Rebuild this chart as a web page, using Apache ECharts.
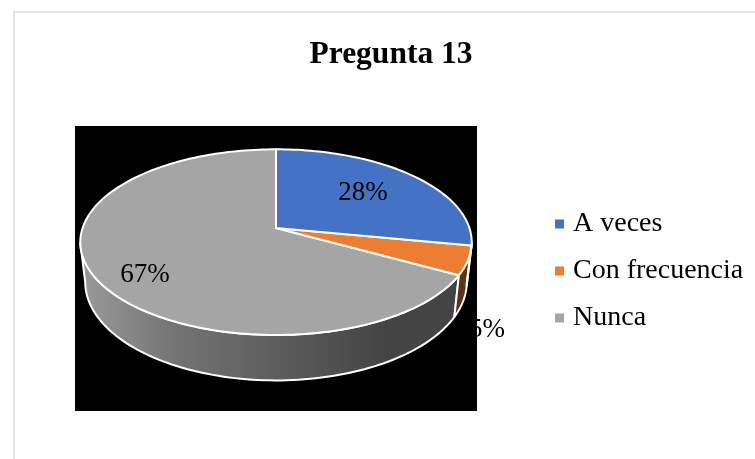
<!DOCTYPE html>
<html>
<head>
<meta charset="utf-8">
<style>
  html, body { margin: 0; padding: 0; background: #fff; }
  #chart { width: 755px; height: 459px; }
</style>
<script src="https://cdn.jsdelivr.net/npm/echarts@6/dist/echarts.min.js"></script>
</head>
<body>
<div id="chart"></div>
<script>
var categories = ['A veces', 'Con frecuencia', 'Nunca'];
var percentValues = [28, 5, 67];
var titleText = 'Pregunta 13';

var sliceColors = ['#4472c4', '#ed7d31', '#a5a5a5'];
var wallColors = ['#2a4a80', '#5e3212', null];
var fontName = '"Liberation Serif", "Times New Roman", serif';

// tilted pie: circle points go through a small perspective
var pie = { cx: 276, cy: 228, r: 193.4, k: 90.7, p: -0.1524 };
var rim = { sx: 0.975, sy: 1.06, dy: 39 };
// label anchors, same order as categories
var labelAnchors = [[363, 193], [487, 330], [145, 275]];

function project(deg, frac) {
  var a = deg * Math.PI / 180;
  var depth = -Math.cos(a) * frac;
  var den = 1 + pie.p * depth;
  return [pie.cx + pie.r * Math.sin(a) * frac / den, pie.cy + pie.k * depth / den];
}
function projectBottom(deg) {
  var t = project(deg, 1);
  return [pie.cx + (t[0] - pie.cx) * rim.sx, pie.cy + (t[1] - pie.cy) * rim.sy + rim.dy];
}
function sliceAngles(idx) {
  var total = percentValues.reduce(function (s, v) { return s + v; }, 0);
  var before = percentValues.slice(0, idx).reduce(function (s, v) { return s + v; }, 0);
  return [before / total * 360, (before + percentValues[idx]) / total * 360];
}
function arcPoints(from, to, fn) {
  var pts = [];
  var n = Math.max(2, Math.ceil((to - from) / 1.5));
  for (var i = 0; i <= n; i++) pts.push(fn(from + (to - from) * i / n));
  return pts;
}
function topPoint(deg) { return project(deg, 1); }

var wallGradient = {
  type: 'linear', x: 80, y: 0, x2: 460, y2: 0, global: true,
  colorStops: [
    { offset: 0, color: '#9a9a9a' },
    { offset: 0.25, color: '#747474' },
    { offset: 0.55, color: '#5a5a5a' },
    { offset: 0.8, color: '#444444' },
    { offset: 1, color: '#444444' }
  ]
};

function labelEl(idx) {
  return {
    type: 'text',
    style: {
      x: labelAnchors[idx][0], y: labelAnchors[idx][1],
      text: percentValues[idx] + '%',
      fill: '#000', font: '27px ' + fontName,
      textAlign: 'center', textVerticalAlign: 'middle'
    }
  };
}

function renderSlice(params) {
  var idx = params.seriesIndex;
  var ang = sliceAngles(idx);
  var children = [];
  // only the front of the wall shows
  var from = Math.max(ang[0], 99), to = Math.min(ang[1], 261);
  if (to > from) {
    var wall = arcPoints(from, to, topPoint).concat(arcPoints(from, to, projectBottom).reverse());
    children.push({
      type: 'polygon', shape: { points: wall },
      style: { fill: wallColors[idx] || wallGradient, stroke: '#fff', lineWidth: 2, lineJoin: 'round' }
    });
  }
  children.push({
    type: 'polygon',
    shape: { points: [[pie.cx, pie.cy]].concat(arcPoints(ang[0], ang[1], topPoint)) },
    style: { fill: sliceColors[idx], stroke: '#fff', lineWidth: 2, lineJoin: 'round' }
  });
  if (percentValues[idx] > 10) children.push(labelEl(idx));
  return { type: 'group', children: children };
}

// small slice label sits outside the pie, under the black plot area
function renderOutsideLabel(params, api) {
  var idx = api.value(0);
  return labelEl(idx);
}

var series = [];
// later slices first so the big wall does not cover the small one
categories.forEach(function (name, i) {
  series.push({
    type: 'custom', name: name, coordinateSystem: 'none', z: 5 - i,
    silent: true, renderItem: renderSlice, data: [[percentValues[i]]],
    itemStyle: { color: sliceColors[i] }
  });
});
series.push({
  type: 'custom', name: 'outside', coordinateSystem: 'none', z: 0,
  silent: true, renderItem: renderOutsideLabel,
  data: percentValues.map(function (v, i) { return [i]; }).filter(function (d) { return percentValues[d[0]] <= 10; })
});

var myChart = echarts.init(document.getElementById('chart'));
myChart.setOption({
  animation: false,
  backgroundColor: '#fff',
  title: {
    text: titleText, left: 386, top: 34, textAlign: 'center',
    textStyle: { fontFamily: fontName, fontSize: 31.5, fontWeight: 'bold', color: '#000' }
  },
  legend: {
    data: categories, left: 550, top: 205, orient: 'vertical',
    itemWidth: 9, itemHeight: 9, itemGap: 19, icon: 'rect', selectedMode: false,
    textStyle: { fontFamily: fontName, fontSize: 28, color: '#000', padding: [0, 0, 0, 4] }
  },
  graphic: [
    { type: 'rect', z: 1, silent: true, shape: { x: 75, y: 126, width: 402, height: 285 }, style: { fill: '#000' } },
    { type: 'rect', z: 1, silent: true, shape: { x: 13, y: 11, width: 742, height: 2 }, style: { fill: '#e2e2e2' } },
    { type: 'rect', z: 1, silent: true, shape: { x: 13, y: 11, width: 2, height: 448 }, style: { fill: '#e2e2e2' } }
  ],
  series: series
});
</script>
</body>
</html>
